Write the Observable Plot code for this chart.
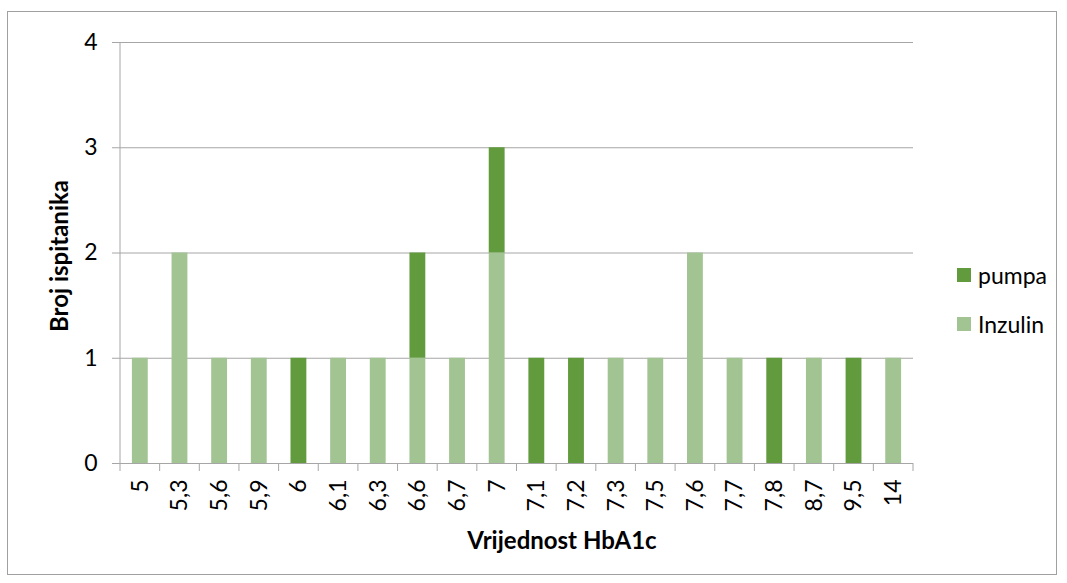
<!DOCTYPE html>
<html>
<head>
<meta charset="utf-8">
<script src="https://cdn.jsdelivr.net/npm/d3@7"></script>
<script src="https://cdn.jsdelivr.net/npm/@observablehq/plot@0.6"></script>
<style>
  body { margin: 0; background: #fff; font-family: Lato, "Open Sans", sans-serif; }
  #wrap { position: relative; width: 1067px; height: 583px; }
  #border { position: absolute; left: 7px; top: 11px; width: 1050px; height: 564px; border: 1px solid #a0a0a0; box-sizing: border-box; }
  #chart { position: absolute; left: 0; top: 0; }
  #legend { position: absolute; left: 957px; top: 264px; font-size: 23px; color: #000; }
  .item { display: flex; align-items: center; height: 22px; line-height: 22px; margin-bottom: 27px; }
  .sw { width: 14px; height: 14px; margin-right: 7px; }
</style>
</head>
<body>
<div id="wrap">
  <div id="border"></div>
  <div id="chart"></div>
  <div id="legend"></div>
</div>
<script>
const categories = ["5","5,3","5,6","5,9","6","6,1","6,3","6,6","6,7","7","7,1","7,2","7,3","7,5","7,6","7,7","7,8","8,7","9,5","14"];
const inzulin = [1,2,1,1,0,1,1,1,1,2,0,0,1,1,2,1,0,1,0,1];
const pumpa   = [0,0,0,0,1,0,0,1,0,1,1,1,0,0,0,0,1,0,1,0];
const seriesNames = ["pumpa", "Inzulin"];
const seriesColors = ["#629a3e", "#a2c493"];
const yTicks = [0, 1, 2, 3, 4];

const rows = [];
categories.forEach((c, i) => {
  rows.push({cat: c, series: "Inzulin", value: inzulin[i]});
  rows.push({cat: c, series: "pumpa", value: pumpa[i]});
});

const W = 1067, H = 583, ML = 120, MR = 154, MT = 42, MB = 120;
const step = (W - ML - MR) / categories.length;
const gapInset = step * 0.3;
const gridColor = "#a6a6a6";

// category boundary tick marks (Excel style)
function boundaryTicks(index, scales, values, dim) {
  const x = scales.x;
  const y0 = dim.height - dim.marginBottom;
  const g = d3.create("svg:g").attr("stroke", gridColor).attr("stroke-width", 1);
  const xs = categories.map(c => x(c));
  xs.push(x(categories[categories.length - 1]) + x.bandwidth());
  for (const px of xs) {
    g.append("line").attr("x1", px).attr("x2", px).attr("y1", y0).attr("y2", y0 + 8);
  }
  return g.node();
}
function leftAxisLine(index, scales, values, dim) {
  return d3.create("svg:line").attr("x1", dim.marginLeft).attr("x2", dim.marginLeft)
    .attr("y1", scales.y(4)).attr("y2", scales.y(0)).attr("stroke", gridColor).node();
}

const chart = Plot.plot({
  width: W,
  height: H,
  marginLeft: ML,
  marginRight: MR,
  marginTop: MT,
  marginBottom: MB,
  style: {fontFamily: "Lato, 'Open Sans', sans-serif", fontSize: "23px", color: "#000", background: "transparent"},
  x: {domain: categories, padding: 0, round: false},
  y: {domain: [0, 4]},
  color: {domain: seriesNames, range: seriesColors},
  marks: [
    Plot.gridY(yTicks, {stroke: gridColor, strokeOpacity: 1}),
    Plot.barY(rows, {x: "cat", y: "value", fill: "series", order: null, insetLeft: gapInset, insetRight: gapInset}),
    Plot.axisY(yTicks, {tickSize: 8, tickPadding: 15, stroke: gridColor, fontSize: 23, tickFormat: d3.format("d"),
      label: "Broj ispitanika", labelAnchor: "center", labelOffset: 70, labelArrow: "none"}),
    Plot.axisX({tickSize: 0, tickRotate: -90, tickPadding: 16, fontSize: 23,
      label: "Vrijednost HbA1c", labelAnchor: "center", labelOffset: 85, labelArrow: "none"}),
    Plot.ruleY([0], {render: leftAxisLine}),
    Plot.ruleY([0], {stroke: gridColor}),
    Plot.ruleY([0], {render: boundaryTicks})
  ]
});

// bold axis titles, nudged like the reference
chart.querySelectorAll("[aria-label='x-axis label'] text").forEach(t => {
  t.setAttribute("font-weight", "bold");
  t.setAttribute("font-size", "24");
  t.setAttribute("dx", "45");
});
chart.querySelectorAll("[aria-label='y-axis label'] text").forEach(t => {
  t.setAttribute("font-weight", "bold");
  t.setAttribute("font-size", "24");
  t.setAttribute("dx", "-3");
});
document.getElementById("chart").appendChild(chart);

const legend = document.getElementById("legend");
seriesNames.forEach((name, i) => {
  const item = document.createElement("div");
  item.className = "item";
  const sw = document.createElement("div");
  sw.className = "sw";
  sw.style.background = seriesColors[i];
  const lab = document.createElement("span");
  lab.textContent = name;
  item.appendChild(sw);
  item.appendChild(lab);
  legend.appendChild(item);
});
</script>
</body>
</html>
